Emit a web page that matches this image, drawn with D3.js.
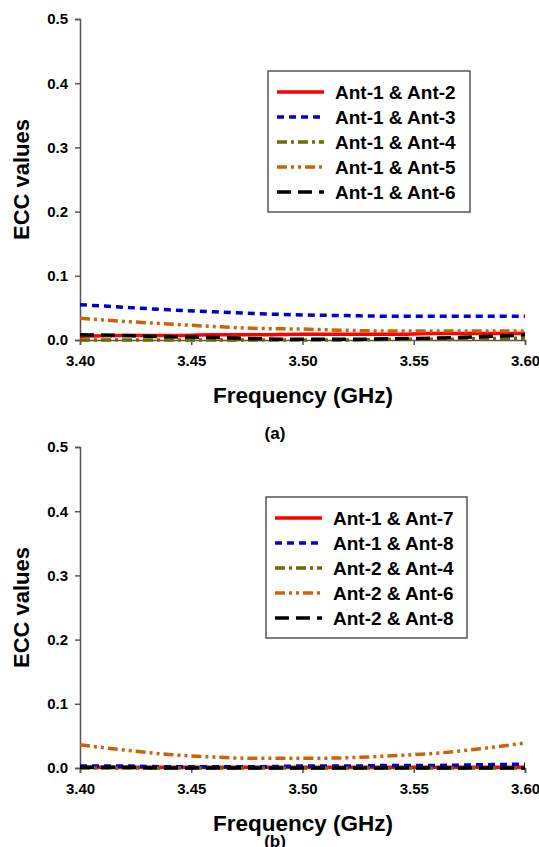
<!DOCTYPE html>
<html><head><meta charset="utf-8">
<script src="https://cdn.jsdelivr.net/npm/d3@7"></script>
<style>body{margin:0;background:#fff}svg{display:block}</style>
</head><body>
<script>
const freq = [3.40,3.42,3.44,3.46,3.48,3.50,3.52,3.54,3.56,3.58,3.60];
const xTicks = [3.40,3.45,3.50,3.55,3.60];
const yTicks = [0.0,0.1,0.2,0.3,0.4,0.5];

const namesA = ["Ant-1 & Ant-2","Ant-1 & Ant-3","Ant-1 & Ant-4","Ant-1 & Ant-5","Ant-1 & Ant-6"];
const a12 = [0.006,0.007,0.007,0.008,0.008,0.009,0.009,0.009,0.010,0.010,0.010];
const a13 = [0.055,0.051,0.047,0.044,0.041,0.039,0.038,0.037,0.037,0.037,0.037];
const a14 = [0.000,0.000,0.000,0.000,0.000,0.000,0.000,0.001,0.001,0.002,0.003];
const a15 = [0.034,0.029,0.025,0.021,0.018,0.017,0.015,0.014,0.014,0.014,0.014];
const a16 = [0.008,0.007,0.005,0.004,0.002,0.001,0.001,0.002,0.003,0.005,0.008];

const namesB = ["Ant-1 & Ant-7","Ant-1 & Ant-8","Ant-2 & Ant-4","Ant-2 & Ant-6","Ant-2 & Ant-8"];
const b17 = [0.001,0.001,0.001,0.001,0.001,0.001,0.001,0.001,0.001,0.001,0.001];
const b18 = [0.003,0.003,0.002,0.002,0.002,0.003,0.003,0.004,0.004,0.005,0.006];
const b24 = [0.000,0.000,0.000,0.000,0.000,0.000,0.000,0.000,0.000,0.000,0.000];
const b26 = [0.036,0.028,0.021,0.017,0.015,0.015,0.016,0.019,0.023,0.030,0.039];
const b28 = [0.001,0.001,0.000,0.000,0.000,0.000,0.000,0.000,0.000,0.000,0.000];

const styles = [
  {color:"#ff0000", dash:null, w:3.5},
  {color:"#0000c8", dash:"7,5", w:3.5},
  {color:"#6b6b00", dash:"10,4,3,4", w:3.5},
  {color:"#c8640a", dash:"10,4,3,4,3,4", w:3.5},
  {color:"#000000", dash:"14,7", w:3.5}
];

const font = "Arial, 'Liberation Sans', Helvetica, sans-serif";
const svg = d3.select("body").append("svg").attr("width",539).attr("height",847);

function panel(top, bottom, names, series, legend, label, labelY) {
  const x = d3.scaleLinear().domain([3.40,3.60]).range([80,525]);
  const y = d3.scaleLinear().domain([0,0.5]).range([bottom, top]);
  const g = svg.append("g").attr("font-family", font).attr("font-weight","bold");

  const yAxis = g.append("g").attr("transform","translate(80,0)")
    .call(d3.axisLeft(y).tickValues(yTicks).tickFormat(d3.format(".1f")).tickSize(5).tickPadding(7));
  yAxis.selectAll("text").attr("font-size",15).attr("font-family",font).attr("font-weight","bold").attr("fill","#000");
  yAxis.selectAll("line,path").attr("stroke","#555").attr("stroke-width",1.5);

  const xAxis = g.append("g").attr("transform",`translate(0,${bottom})`)
    .call(d3.axisBottom(x).tickValues(xTicks).tickFormat(d3.format(".2f")).tickSize(5).tickPadding(10));
  xAxis.selectAll("text").attr("font-size",15).attr("font-family",font).attr("font-weight","bold").attr("fill","#000");
  xAxis.selectAll("line,path").attr("stroke","#555").attr("stroke-width",1.5);

  const line = d3.line().x((d,i)=>x(freq[i])).y(d=>y(d)).curve(d3.curveMonotoneX);
  series.forEach((s,i)=>{
    g.append("path").datum(s).attr("d",line).attr("fill","none")
      .attr("stroke",styles[i].color).attr("stroke-width",styles[i].w)
      .attr("stroke-dasharray",styles[i].dash);
  });

  g.append("text").attr("x",303).attr("y",bottom+63).attr("text-anchor","middle")
    .attr("font-size",22.5).text("Frequency (GHz)");
  g.append("text").attr("transform",`translate(29,${(top+bottom)/2})rotate(-90)`)
    .attr("text-anchor","middle").attr("font-size",22).text("ECC values");
  g.append("text").attr("x",275).attr("y",labelY).attr("text-anchor","middle")
    .attr("font-size",17).text(label);

  // legend
  const L = legend;
  g.append("rect").attr("x",L.x).attr("y",L.y).attr("width",L.w).attr("height",L.h)
    .attr("fill","#fff").attr("stroke","#555").attr("stroke-width",1.5);
  names.forEach((n,i)=>{
    const cy = L.y + 21 + i*25;
    g.append("line").attr("x1",L.x+9).attr("x2",L.x+56).attr("y1",cy).attr("y2",cy)
      .attr("stroke",styles[i].color).attr("stroke-width",styles[i].w)
      .attr("stroke-dasharray",styles[i].dash);
    g.append("text").attr("x",L.x+67).attr("y",cy+7).attr("font-size",19).text(n);
  });
}

panel(19, 340, namesA, [a12,a13,a14,a15,a16], {x:268,y:71,w:202,h:141}, "(a)", 439);
panel(447, 768, namesB, [b17,b18,b24,b26,b28], {x:266,y:497,w:201,h:141}, "(b)", 847);
</script>
</body></html>
